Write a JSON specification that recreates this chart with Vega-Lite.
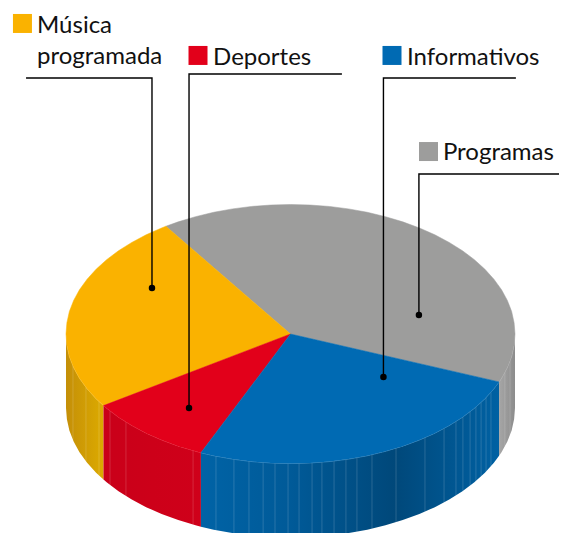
{
"$schema":"https://vega.github.io/schema/vega-lite/v6.json",
"width":561,"height":533,"padding":0,"autosize":"none","background":"white",
"config":{"view":{"stroke":null}},
"datasets":{
"sides":[
{"part":"Música programada","x":-1,"y":0,"y2":-0.571},{"part":"Música programada","x":-0.996,"y":-0.087,"y2":-0.658},{"part":"Música programada","x":-0.985,"y":-0.174,"y2":-0.745},{"part":"Música programada","x":-0.966,"y":-0.259,"y2":-0.83},{"part":"Música programada","x":-0.94,"y":-0.342,"y2":-0.913},{"part":"Música programada","x":-0.906,"y":-0.423,"y2":-0.994},{"part":"Música programada","x":-0.866,"y":-0.5,"y2":-1.071},{"part":"Música programada","x":-0.833,"y":-0.553,"y2":-1.124},
{"part":"Deportes","x":-0.833,"y":-0.553,"y2":-1.124},{"part":"Deportes","x":-0.819,"y":-0.574,"y2":-1.145},{"part":"Deportes","x":-0.766,"y":-0.643,"y2":-1.214},{"part":"Deportes","x":-0.707,"y":-0.707,"y2":-1.278},{"part":"Deportes","x":-0.643,"y":-0.766,"y2":-1.337},{"part":"Deportes","x":-0.574,"y":-0.819,"y2":-1.39},{"part":"Deportes","x":-0.5,"y":-0.866,"y2":-1.437},{"part":"Deportes","x":-0.423,"y":-0.906,"y2":-1.477},{"part":"Deportes","x":-0.399,"y":-0.917,"y2":-1.488},
{"part":"Informativos","x":-0.399,"y":-0.917,"y2":-1.488},{"part":"Informativos","x":-0.342,"y":-0.94,"y2":-1.511},{"part":"Informativos","x":-0.259,"y":-0.966,"y2":-1.537},{"part":"Informativos","x":-0.174,"y":-0.985,"y2":-1.556},{"part":"Informativos","x":-0.087,"y":-0.996,"y2":-1.567},{"part":"Informativos","x":0,"y":-1,"y2":-1.571},{"part":"Informativos","x":0.087,"y":-0.996,"y2":-1.567},{"part":"Informativos","x":0.174,"y":-0.985,"y2":-1.556},{"part":"Informativos","x":0.259,"y":-0.966,"y2":-1.537},{"part":"Informativos","x":0.342,"y":-0.94,"y2":-1.511},{"part":"Informativos","x":0.423,"y":-0.906,"y2":-1.477},{"part":"Informativos","x":0.5,"y":-0.866,"y2":-1.437},{"part":"Informativos","x":0.574,"y":-0.819,"y2":-1.39},{"part":"Informativos","x":0.643,"y":-0.766,"y2":-1.337},{"part":"Informativos","x":0.707,"y":-0.707,"y2":-1.278},{"part":"Informativos","x":0.766,"y":-0.643,"y2":-1.214},{"part":"Informativos","x":0.819,"y":-0.574,"y2":-1.145},{"part":"Informativos","x":0.866,"y":-0.5,"y2":-1.071},{"part":"Informativos","x":0.906,"y":-0.423,"y2":-0.994},{"part":"Informativos","x":0.929,"y":-0.37,"y2":-0.941},
{"part":"Programas","x":0.929,"y":-0.37,"y2":-0.941},{"part":"Programas","x":0.94,"y":-0.342,"y2":-0.913},{"part":"Programas","x":0.966,"y":-0.259,"y2":-0.83},{"part":"Programas","x":0.985,"y":-0.174,"y2":-0.745},{"part":"Programas","x":0.996,"y":-0.087,"y2":-0.658},{"part":"Programas","x":1,"y":0,"y2":-0.571}
],
"streaks":[
{"x":-0.969,"y":-0.247,"y2":-0.818},{"x":-0.911,"y":-0.412,"y2":-0.983},{"x":-0.853,"y":-0.522,"y2":-1.093},{"x":-0.804,"y":-0.595,"y2":-1.166},{"x":-0.733,"y":-0.68,"y2":-1.251},{"x":-0.434,"y":-0.901,"y2":-1.472},{"x":-0.332,"y":-0.943,"y2":-1.514},{"x":-0.252,"y":-0.968,"y2":-1.539},{"x":-0.185,"y":-0.983,"y2":-1.554},{"x":-0.122,"y":-0.993,"y2":-1.564},{"x":-0.069,"y":-0.998,"y2":-1.569},{"x":-0.011,"y":-1,"y2":-1.571},{"x":0.038,"y":-0.999,"y2":-1.57},{"x":0.096,"y":-0.995,"y2":-1.566},{"x":0.14,"y":-0.99,"y2":-1.561},{"x":0.194,"y":-0.981,"y2":-1.552},{"x":0.247,"y":-0.969,"y2":-1.54},{"x":0.296,"y":-0.955,"y2":-1.526},{"x":0.363,"y":-0.932,"y2":-1.503},{"x":0.47,"y":-0.883,"y2":-1.454},{"x":0.599,"y":-0.801,"y2":-1.372},{"x":0.684,"y":-0.73,"y2":-1.301},{"x":0.737,"y":-0.676,"y2":-1.247},{"x":0.768,"y":-0.64,"y2":-1.211},{"x":0.8,"y":-0.6,"y2":-1.171},{"x":0.826,"y":-0.564,"y2":-1.135},{"x":0.849,"y":-0.529,"y2":-1.1},{"x":0.871,"y":-0.491,"y2":-1.062},{"x":0.893,"y":-0.45,"y2":-1.021},{"x":0.955,"y":-0.296,"y2":-0.867},{"x":0.978,"y":-0.209,"y2":-0.78}
],
"tops":[
{"part":"Programas","seq":0,"x":0,"y":0},{"part":"Programas","seq":1,"x":-0.555,"y":0.832},{"part":"Programas","seq":2,"x":-0.5,"y":0.866},{"part":"Programas","seq":3,"x":-0.423,"y":0.906},{"part":"Programas","seq":4,"x":-0.342,"y":0.94},{"part":"Programas","seq":5,"x":-0.259,"y":0.966},{"part":"Programas","seq":6,"x":-0.174,"y":0.985},{"part":"Programas","seq":7,"x":-0.087,"y":0.996},{"part":"Programas","seq":8,"x":0,"y":1},{"part":"Programas","seq":9,"x":0.087,"y":0.996},{"part":"Programas","seq":10,"x":0.174,"y":0.985},{"part":"Programas","seq":11,"x":0.259,"y":0.966},{"part":"Programas","seq":12,"x":0.342,"y":0.94},{"part":"Programas","seq":13,"x":0.423,"y":0.906},{"part":"Programas","seq":14,"x":0.5,"y":0.866},{"part":"Programas","seq":15,"x":0.574,"y":0.819},{"part":"Programas","seq":16,"x":0.643,"y":0.766},{"part":"Programas","seq":17,"x":0.707,"y":0.707},{"part":"Programas","seq":18,"x":0.766,"y":0.643},{"part":"Programas","seq":19,"x":0.819,"y":0.574},{"part":"Programas","seq":20,"x":0.866,"y":0.5},{"part":"Programas","seq":21,"x":0.906,"y":0.423},{"part":"Programas","seq":22,"x":0.94,"y":0.342},{"part":"Programas","seq":23,"x":0.966,"y":0.259},{"part":"Programas","seq":24,"x":0.985,"y":0.174},{"part":"Programas","seq":25,"x":0.996,"y":0.087},{"part":"Programas","seq":26,"x":1,"y":0},{"part":"Programas","seq":27,"x":0.996,"y":-0.087},{"part":"Programas","seq":28,"x":0.985,"y":-0.174},{"part":"Programas","seq":29,"x":0.966,"y":-0.259},{"part":"Programas","seq":30,"x":0.94,"y":-0.342},{"part":"Programas","seq":31,"x":0.929,"y":-0.37},{"part":"Programas","seq":32,"x":0,"y":0},
{"part":"Música programada","seq":0,"x":0,"y":0},{"part":"Música programada","seq":1,"x":-0.555,"y":0.832},{"part":"Música programada","seq":2,"x":-0.574,"y":0.819},{"part":"Música programada","seq":3,"x":-0.643,"y":0.766},{"part":"Música programada","seq":4,"x":-0.707,"y":0.707},{"part":"Música programada","seq":5,"x":-0.766,"y":0.643},{"part":"Música programada","seq":6,"x":-0.819,"y":0.574},{"part":"Música programada","seq":7,"x":-0.866,"y":0.5},{"part":"Música programada","seq":8,"x":-0.906,"y":0.423},{"part":"Música programada","seq":9,"x":-0.94,"y":0.342},{"part":"Música programada","seq":10,"x":-0.966,"y":0.259},{"part":"Música programada","seq":11,"x":-0.985,"y":0.174},{"part":"Música programada","seq":12,"x":-0.996,"y":0.087},{"part":"Música programada","seq":13,"x":-1,"y":0},{"part":"Música programada","seq":14,"x":-0.996,"y":-0.087},{"part":"Música programada","seq":15,"x":-0.985,"y":-0.174},{"part":"Música programada","seq":16,"x":-0.966,"y":-0.259},{"part":"Música programada","seq":17,"x":-0.94,"y":-0.342},{"part":"Música programada","seq":18,"x":-0.906,"y":-0.423},{"part":"Música programada","seq":19,"x":-0.866,"y":-0.5},{"part":"Música programada","seq":20,"x":-0.833,"y":-0.553},{"part":"Música programada","seq":21,"x":0,"y":0},
{"part":"Deportes","seq":0,"x":0,"y":0},{"part":"Deportes","seq":1,"x":-0.833,"y":-0.553},{"part":"Deportes","seq":2,"x":-0.819,"y":-0.574},{"part":"Deportes","seq":3,"x":-0.766,"y":-0.643},{"part":"Deportes","seq":4,"x":-0.707,"y":-0.707},{"part":"Deportes","seq":5,"x":-0.643,"y":-0.766},{"part":"Deportes","seq":6,"x":-0.574,"y":-0.819},{"part":"Deportes","seq":7,"x":-0.5,"y":-0.866},{"part":"Deportes","seq":8,"x":-0.423,"y":-0.906},{"part":"Deportes","seq":9,"x":-0.399,"y":-0.917},{"part":"Deportes","seq":10,"x":0,"y":0},
{"part":"Informativos","seq":0,"x":0,"y":0},{"part":"Informativos","seq":1,"x":-0.399,"y":-0.917},{"part":"Informativos","seq":2,"x":-0.342,"y":-0.94},{"part":"Informativos","seq":3,"x":-0.259,"y":-0.966},{"part":"Informativos","seq":4,"x":-0.174,"y":-0.985},{"part":"Informativos","seq":5,"x":-0.087,"y":-0.996},{"part":"Informativos","seq":6,"x":0,"y":-1},{"part":"Informativos","seq":7,"x":0.087,"y":-0.996},{"part":"Informativos","seq":8,"x":0.174,"y":-0.985},{"part":"Informativos","seq":9,"x":0.259,"y":-0.966},{"part":"Informativos","seq":10,"x":0.342,"y":-0.94},{"part":"Informativos","seq":11,"x":0.423,"y":-0.906},{"part":"Informativos","seq":12,"x":0.5,"y":-0.866},{"part":"Informativos","seq":13,"x":0.574,"y":-0.819},{"part":"Informativos","seq":14,"x":0.643,"y":-0.766},{"part":"Informativos","seq":15,"x":0.707,"y":-0.707},{"part":"Informativos","seq":16,"x":0.766,"y":-0.643},{"part":"Informativos","seq":17,"x":0.819,"y":-0.574},{"part":"Informativos","seq":18,"x":0.866,"y":-0.5},{"part":"Informativos","seq":19,"x":0.906,"y":-0.423},{"part":"Informativos","seq":20,"x":0.929,"y":-0.37},{"part":"Informativos","seq":21,"x":0,"y":0}
],
"leaders":[
{"part":"Música programada","seq":0,"x":-1.178,"y":1.977},{"part":"Música programada","seq":1,"x":-0.617,"y":1.977},{"part":"Música programada","seq":2,"x":-0.617,"y":0.355},
{"part":"Deportes","seq":0,"x":0.229,"y":2.008},{"part":"Deportes","seq":1,"x":-0.452,"y":2.008},{"part":"Deportes","seq":2,"x":-0.452,"y":-0.571},
{"part":"Informativos","seq":0,"x":1.004,"y":1.977},{"part":"Informativos","seq":1,"x":0.414,"y":1.977},{"part":"Informativos","seq":2,"x":0.414,"y":-0.332},
{"part":"Programas","seq":0,"x":1.196,"y":1.236},{"part":"Programas","seq":1,"x":0.572,"y":1.236},{"part":"Programas","seq":2,"x":0.572,"y":0.147}
],
"dots":[
{"part":"Música programada","x":-0.617,"y":0.355},{"part":"Deportes","x":-0.452,"y":-0.571},{"part":"Informativos","x":0.414,"y":-0.332},{"part":"Programas","x":0.572,"y":0.147}
],
"keys":[
{"part":"Música programada","x":-1.194,"y":2.398},{"part":"Deportes","x":-0.412,"y":2.151},{"part":"Informativos","x":0.4521,"y":2.151},{"part":"Programas","x":0.6147,"y":1.409}
],
"labels":[
{"label":"Música","x":-1.129,"y":2.324},{"label":"programada","x":-1.129,"y":2.085},{"label":"Deportes","x":-0.345,"y":2.077},{"label":"Informativos","x":0.519,"y":2.081},{"label":"Programas","x":0.679,"y":1.344}
]
},
"encoding":{
"x":{"field":"x","type":"quantitative","axis":null,"scale":{"domain":[-1.294,1.2049],"nice":false,"zero":false}},
"y":{"field":"y","type":"quantitative","axis":null,"scale":{"domain":[-1.5367,2.5792],"nice":false,"zero":false}}
},
"layer":[
{"data":{"name":"sides"},"transform":[{"filter":"datum.part==='Música programada'"}],
 "mark":{"type":"area","opacity":1,"line":{"stroke":"#ffffff","strokeOpacity":0.35,"strokeWidth":0.7},"color":{"x1":0,"y1":0,"x2":1,"y2":0,"gradient":"linear","stops":[{"offset":0,"color":"#c48f08"},{"offset":1,"color":"#dcaa00"}]}},
 "encoding":{"y2":{"field":"y2"}}},
{"data":{"name":"sides"},"transform":[{"filter":"datum.part==='Deportes'"}],
 "mark":{"type":"area","opacity":1,"line":{"stroke":"#ffffff","strokeOpacity":0.2,"strokeWidth":0.7},"color":{"x1":0,"y1":0,"x2":1,"y2":0,"gradient":"linear","stops":[{"offset":0,"color":"#c90019"},{"offset":0.5,"color":"#cd0019"},{"offset":1,"color":"#cf001a"}]}},
 "encoding":{"y2":{"field":"y2"}}},
{"data":{"name":"sides"},"transform":[{"filter":"datum.part==='Informativos'"}],
 "mark":{"type":"area","opacity":1,"line":{"stroke":"#ffffff","strokeOpacity":0.35,"strokeWidth":0.7},"color":{"x1":0,"y1":0,"x2":1,"y2":0,"gradient":"linear","stops":[{"offset":0,"color":"#0063a6"},{"offset":0.3,"color":"#005a98"},{"offset":0.65,"color":"#00487a"},{"offset":1,"color":"#0061a3"}]}},
 "encoding":{"y2":{"field":"y2"}}},
{"data":{"name":"sides"},"transform":[{"filter":"datum.part==='Programas'"}],
 "mark":{"type":"area","opacity":1,"line":{"stroke":"#ffffff","strokeOpacity":0.35,"strokeWidth":0.7},"color":{"x1":0,"y1":0,"x2":1,"y2":0,"gradient":"linear","stops":[{"offset":0,"color":"#a6a6a6"},{"offset":1,"color":"#8c8c8c"}]}},
 "encoding":{"y2":{"field":"y2"}}},
{"data":{"name":"streaks"},
 "mark":{"type":"rule","color":"#ffffff","opacity":0.2,"strokeWidth":0.8},
 "encoding":{"y2":{"field":"y2"}}},
{"data":{"name":"tops"},
 "mark":{"type":"line","strokeWidth":0.5},
 "encoding":{
  "order":{"field":"seq","type":"quantitative"},
  "detail":{"field":"part"},
  "fill":{"field":"part","type":"nominal","legend":null,"scale":{"domain":["Música programada","Deportes","Informativos","Programas"],"range":["#fab200","#e2001a","#006ab3","#9d9d9c"]}},
  "stroke":{"field":"part","type":"nominal","legend":null,"scale":{"domain":["Música programada","Deportes","Informativos","Programas"],"range":["#fab200","#e2001a","#006ab3","#9d9d9c"]}}
 }},
{"data":{"name":"leaders"},
 "mark":{"type":"line","color":"#000000","strokeWidth":1.4},
 "encoding":{"order":{"field":"seq","type":"quantitative"},"detail":{"field":"part"}}},
{"data":{"name":"dots"},
 "mark":{"type":"point","shape":"circle","filled":true,"color":"#000000","size":42,"opacity":1}},
{"data":{"name":"keys"},
 "mark":{"type":"point","shape":"square","filled":true,"size":361,"opacity":1,"strokeWidth":0},
 "encoding":{"fill":{"field":"part","type":"nominal","legend":null,"scale":{"domain":["Música programada","Deportes","Informativos","Programas"],"range":["#fab200","#e2001a","#006ab3","#9d9d9c"]}}}},
{"data":{"name":"labels"},
 "mark":{"type":"text","align":"left","baseline":"alphabetic","font":"Lato","fontSize":24,"color":"#111111"},
 "encoding":{"text":{"field":"label"}}}
]
}
